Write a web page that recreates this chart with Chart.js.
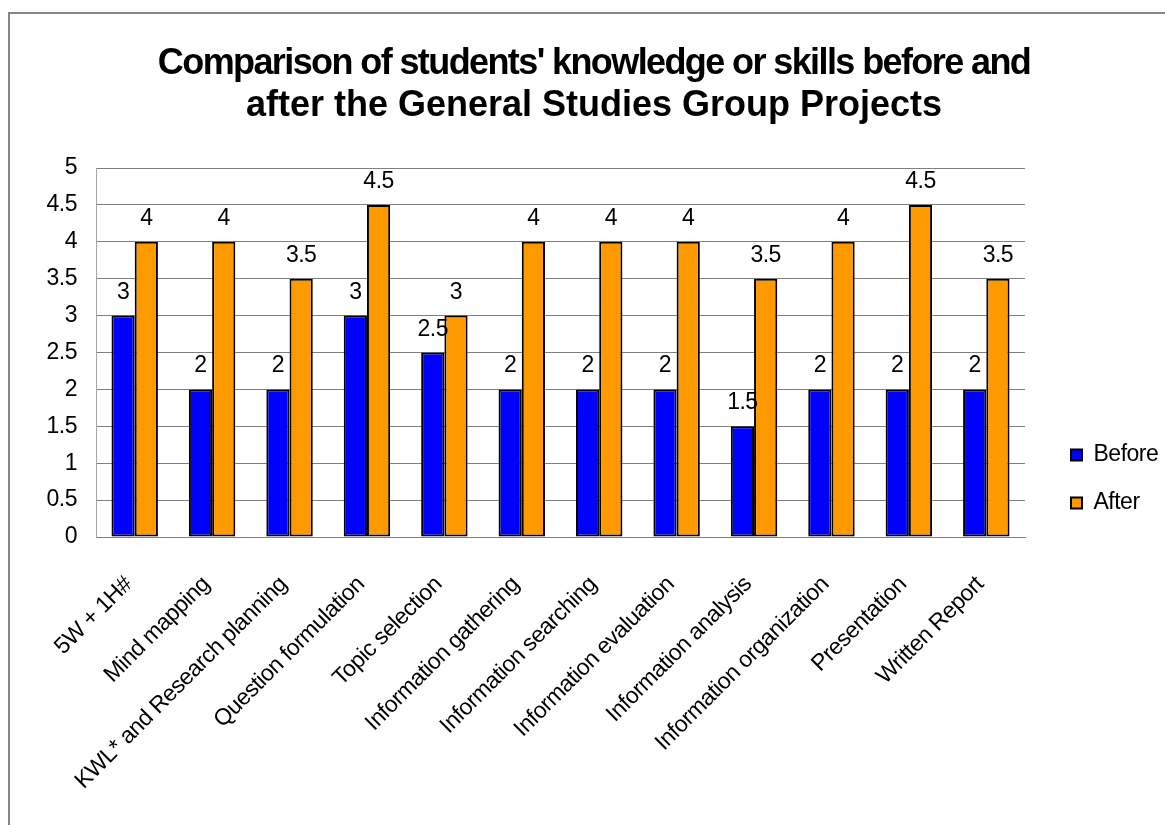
<!DOCTYPE html>
<html>
<head>
<meta charset="utf-8">
<script src="https://cdn.jsdelivr.net/npm/chart.js@4/dist/chart.umd.min.js"></script>
<style>
  html, body { margin: 0; padding: 0; background: #ffffff; overflow: hidden; width: 1165px; height: 825px; position: relative; }
  #frame { position: absolute; left: 8px; top: 12px; width: 1300px; height: 1000px; border: 2px solid #868686; box-sizing: border-box; }
  #c { position: absolute; left: 10px; top: 14px; }
</style>
</head>
<body>
<div id="frame"></div>
<canvas id="c" width="1168" height="811"></canvas>
<script>
const categories = [
  "5W + 1H#", "Mind mapping", "KWL* and Research planning", "Question formulation",
  "Topic selection", "Information gathering", "Information searching", "Information evaluation",
  "Information analysis", "Information organization", "Presentation", "Written Report"
];
const beforeValues = [3, 2, 2, 3, 2.5, 2, 2, 2, 1.5, 2, 2, 2];
const afterValues  = [4, 4, 3.5, 4.5, 3, 4, 4, 4, 3.5, 4, 4.5, 3.5];
const seriesNames = ["Before", "After"];
const titleLines = ["Comparison of students' knowledge or skills before and", "after the General Studies Group Projects"];
const yMin = 0, yMax = 5, yStep = 0.5;

const FONT = "'Liberation Sans', Arial, sans-serif";
const CANVAS_LEFT = 10, CANVAS_TOP = 14;
const PLOT_LEFT = 96, PLOT_RIGHT = 1025, PLOT_TOP = 168, PLOT_BOTTOM = 537;
const LEGEND_BOX_X = 1071, LEGEND_MID_Y = 479;

const spacingPlugin = {
  id: 'spacing',
  beforeUpdate(chart) { chart.ctx.letterSpacing = '-0.5px'; },
  beforeDraw(chart) { chart.ctx.letterSpacing = '-0.5px'; }
};

// title: two text lines, each with its own tracking
const headline = {
  id: 'headline',
  afterDraw(chart) {
    const ctx = chart.ctx;
    ctx.save();
    ctx.font = "bold 36px " + FONT;
    ctx.fillStyle = '#000000';
    ctx.textAlign = 'center';
    ctx.textBaseline = 'middle';
    const cx = chart.width / 2;
    const ys = [64 - CANVAS_TOP, 106 - CANVAS_TOP];
    const sp = ['-1.6px', '0px'];
    titleLines.forEach((t, i) => {
      ctx.letterSpacing = sp[i];
      ctx.fillText(t, cx, ys[i]);
    });
    ctx.restore();
  }
};

const legendTweak = {
  id: 'legendTweak',
  afterLayout(chart) {
    const lg = chart.legend;
    if (!lg) return;
    const pad = lg.options.labels.padding;
    const left = (LEGEND_BOX_X - CANVAS_LEFT) - pad;
    const w = lg.width;
    lg.left = left; lg.right = left + w;
    const mid = LEGEND_MID_Y - CANVAS_TOP;
    lg.top = mid - 150; lg.bottom = mid + 150; lg.height = 300;
  }
};

const valueLabels = {
  id: 'valueLabels',
  afterDatasetsDraw(chart) {
    const ctx = chart.ctx;
    ctx.save();
    ctx.font = "23px " + FONT;
    ctx.fillStyle = '#000000';
    ctx.textAlign = 'center';
    ctx.textBaseline = 'alphabetic';
    chart.data.datasets.forEach((ds, di) => {
      const meta = chart.getDatasetMeta(di);
      meta.data.forEach((el, i) => {
        ctx.fillText(String(ds.data[i]), el.x, el.y - 17);
      });
    });
    ctx.restore();
  }
};

const ctx = document.getElementById('c').getContext('2d');
new Chart(ctx, {
  type: 'bar',
  data: {
    labels: categories,
    datasets: [
      { label: seriesNames[0], data: beforeValues, backgroundColor: '#0000FF', borderColor: '#000000', borderWidth: 2, borderSkipped: false, categoryPercentage: 0.6, barPercentage: 1.0 },
      { label: seriesNames[1], data: afterValues, backgroundColor: '#FF9900', borderColor: '#000000', borderWidth: 2, borderSkipped: false, categoryPercentage: 0.6, barPercentage: 1.0 }
    ]
  },
  options: {
    responsive: false,
    animation: false,
    devicePixelRatio: 1,
    layout: { padding: { top: PLOT_TOP - CANVAS_TOP, left: 0, right: 0, bottom: 0 } },
    plugins: {
      title: { display: false },
      legend: {
        display: true,
        position: 'right',
        labels: {
          color: '#000000',
          font: { family: FONT, size: 23 },
          boxWidth: 11,
          boxHeight: 11,
          padding: 25
        }
      },
      tooltip: { enabled: false }
    },
    scales: {
      x: {
        grid: { display: false },
        border: { display: true, color: '#808080', width: 1 },
        ticks: {
          color: '#000000',
          font: { family: FONT, size: 23 },
          minRotation: 45, maxRotation: 45,
          autoSkip: false,
          padding: 26,
          labelOffset: -6
        },
        afterFit(scale) { scale.height = (CANVAS_TOP + scale.chart.height) - PLOT_BOTTOM; }
      },
      y: {
        min: yMin, max: yMax,
        grid: { color: '#808080', lineWidth: 1, drawTicks: false },
        border: { display: true, color: '#a6a6a6', width: 1 },
        ticks: {
          stepSize: yStep,
          color: '#000000',
          font: { family: FONT, size: 23 },
          padding: 19,
          callback: (v) => String(Number(Number(v).toFixed(1)))
        },
        afterFit(scale) { scale.width = PLOT_LEFT - CANVAS_LEFT; }
      },
      pad: {
        type: 'linear',
        position: 'right',
        display: true,
        grid: { display: false },
        border: { display: false },
        ticks: { display: false },
        afterFit(scale) {
          const ch = scale.chart;
          const lw = ch.legend ? ch.legend.width : 0;
          scale.width = Math.max(0, (ch.width - lw) - (PLOT_RIGHT - CANVAS_LEFT));
        }
      }
    }
  },
  plugins: [spacingPlugin, headline, legendTweak, valueLabels]
});
</script>
</body>
</html>
